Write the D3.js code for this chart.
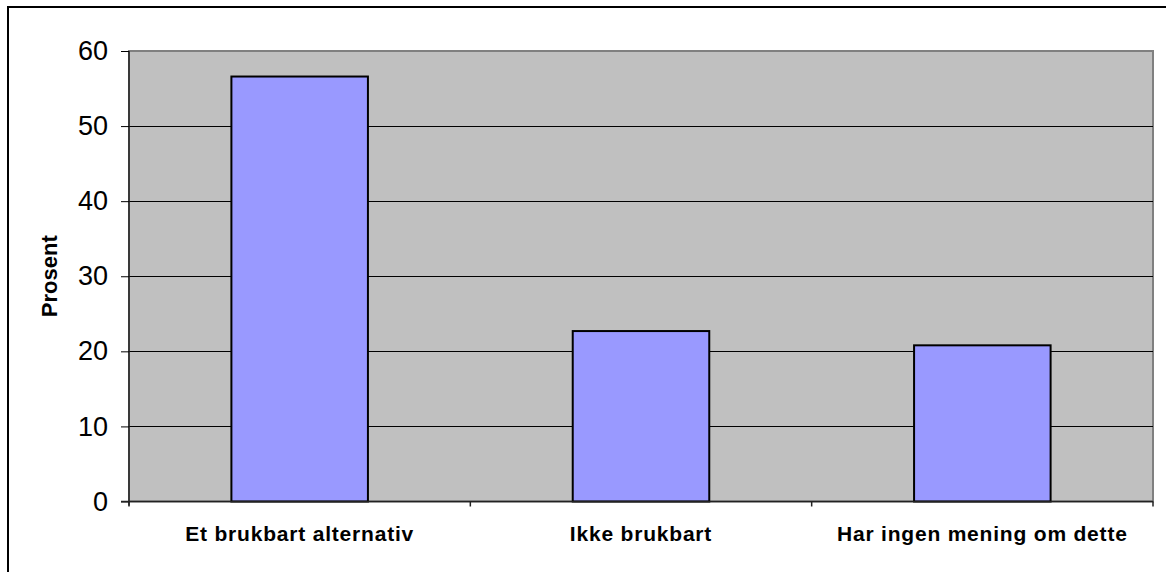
<!DOCTYPE html>
<html lang="en">
	<head>
		<meta charset="utf-8">
		<title>Prosent</title>
		<script src="https://d3js.org/d3.v7.min.js"></script>
		<style>
			body { margin: 0; background: #ffffff; }
			svg { display: block; }
		</style>
	</head>
	<body>
		<div id="chart"></div>
	</body>
</html>

<script type="text/javascript">

// data
var categories = ["Et brukbart alternativ", "Ikke brukbart", "Har ingen mening om dette"];
var values = [56.6, 22.7, 20.8];
var yTicks = [0, 10, 20, 30, 40, 50, 60];
var yTitle = "Prosent";

var w = 1166;
var h = 572;
var margin = {top: 51, right: 13, bottom: 70.5, left: 129};

var svg = d3.select("#chart")
			.append("svg")
			.attr("width", w)
			.attr("height", h);

// outer frame (runs off the right and bottom edges)
svg.append("rect")
		.attr("x", 8)
		.attr("y", 7)
		.attr("width", 1300)
		.attr("height", 700)
		.attr("fill", "none")
		.attr("stroke", "#000")
		.attr("stroke-width", 2);

var g = svg.append("g")
			.attr("transform", `translate(${margin.left}, ${margin.top})`);

var innerWidth = w - margin.left - margin.right;
var innerHeight = h - margin.top - margin.bottom;

/*Scales*/
var yScale = d3.scaleLinear()
				.domain([0, 60])
				.range([innerHeight, 0]);

var xCat = d3.scaleBand()
				.domain(categories)
				.range([0, innerWidth])
				.padding(0);

var xBar = d3.scaleBand()
				.domain(categories)
				.range([0, innerWidth])
				.paddingInner(0.6)
				.paddingOuter(0.3);

// plot area
g.append("rect")
	.attr("x", 0)
	.attr("y", 0)
	.attr("width", innerWidth)
	.attr("height", innerHeight)
	.attr("fill", "#c0c0c0")
	.attr("stroke", "#808080")
	.attr("stroke-width", 2);

// gridlines
g.append("g")
	.selectAll("line")
	.data(yTicks.filter(function(d) { return d > 0 && d < 60; }))
	.enter().append("line")
	.attr("x1", 0)
	.attr("x2", innerWidth)
	.attr("y1", function(d) { return Math.round(yScale(d)) + 0.5; })
	.attr("y2", function(d) { return Math.round(yScale(d)) + 0.5; })
	.attr("stroke", "#000")
	.attr("stroke-width", 1);

// bars
g.append("g")
	.selectAll("rect")
	.data(values)
	.enter().append("rect")
	.attr("x", function(d, i) { return xBar(categories[i]); })
	.attr("y", function(d) { return yScale(d); })
	.attr("width", xBar.bandwidth())
	.attr("height", function(d) { return yScale(0) - yScale(d); })
	.attr("fill", "#9999ff")
	.attr("stroke", "#000")
	.attr("stroke-width", 2);

// y axis
var yAxis = g.append("g")
			.call(d3.axisLeft(yScale).tickValues(yTicks).tickSize(8).tickPadding(13));
yAxis.select(".domain")
	.attr("stroke", "#222")
	.attr("stroke-width", 1.5)
	.attr("d", `M0,0V${innerHeight + 4}`);
yAxis.selectAll(".tick line").attr("stroke", "#000");
yAxis.selectAll(".tick text")
	.attr("font-family", "Arial, 'Liberation Sans', sans-serif")
	.attr("font-size", "27px")
	.attr("fill", "#000");

// x axis line and category ticks at the boundaries
g.append("line")
	.attr("x1", -8)
	.attr("x2", innerWidth)
	.attr("y1", innerHeight)
	.attr("y2", innerHeight)
	.attr("stroke", "#222")
	.attr("stroke-width", 1.5);

var bounds = categories.map(function(c) { return xCat(c); }).concat([innerWidth]);
g.append("g")
	.selectAll("line")
	.data(bounds)
	.enter().append("line")
	.attr("x1", function(d) { return d; })
	.attr("x2", function(d) { return d; })
	.attr("y1", innerHeight)
	.attr("y2", innerHeight + 5)
	.attr("stroke", "#222")
	.attr("stroke-width", 1.5);

// category labels
g.append("g")
	.selectAll("text")
	.data(categories)
	.enter().append("text")
	.attr("x", function(d) { return xCat(d) + xCat.bandwidth() / 2; })
	.attr("y", innerHeight + 32)
	.attr("dy", "0.35em")
	.attr("text-anchor", "middle")
	.attr("font-family", "Arial, 'Liberation Sans', sans-serif")
	.attr("font-size", "21px")
	.attr("font-weight", "bold")
	.attr("letter-spacing", "0.8px")
	.attr("fill", "#000")
	.text(function(d) { return d; });

// y title
svg.append("text")
	.attr("transform", `translate(49, ${margin.top + innerHeight / 2}) rotate(-90)`)
	.attr("dy", "0.35em")
	.attr("text-anchor", "middle")
	.attr("font-family", "Arial, 'Liberation Sans', sans-serif")
	.attr("font-size", "22px")
	.attr("font-weight", "bold")
	.attr("fill", "#000")
	.text(yTitle);

</script>
